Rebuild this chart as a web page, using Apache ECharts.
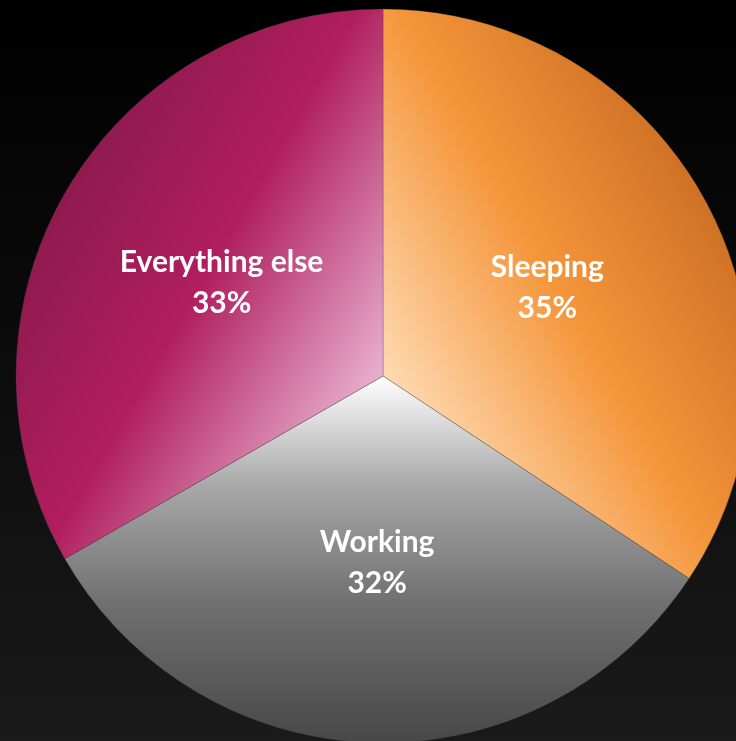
<!DOCTYPE html>
<html><head><meta charset="utf-8">
<script src="https://cdn.jsdelivr.net/npm/echarts@6/dist/echarts.min.js"></script>
<style>
html,body{margin:0;padding:0;width:736px;height:741px;overflow:hidden;background:linear-gradient(to bottom,#000 0%,#0c0c0c 50%,#1a1a1a 100%);}
#c{width:736px;height:741px;}
</style></head><body><div id="c"></div>
<script>
var categories = ['Sleeping', 'Working', 'Everything else'];
var values = [34.3, 32.4, 33.3];
var labelTexts = ['35%', '32%', '33%'];

var G = echarts.graphic.LinearGradient;
var fills = [
  new G(382, 376, 749, 165, [{offset:0,color:'#fedab3'},{offset:0.46,color:'#f5963b'},{offset:1,color:'#c4661f'}], true),
  new G(0, 376, 0, 742, [{offset:0,color:'#ffffff'},{offset:0.3,color:'#a8a8a8'},{offset:0.62,color:'#707070'},{offset:1,color:'#484848'}], true),
  new G(382, 376, 15, 165, [{offset:0,color:'#e8b0cf'},{offset:0.48,color:'#b01e5e'},{offset:1,color:'#84194a'}], true)
];

var chart = echarts.init(document.getElementById('c'), null, {renderer:'canvas'});
chart.setOption({
  animation:false,
  backgroundColor:'transparent',
  series:[{
    type:'pie',
    center:[383,376],
    radius:[0,367],
    startAngle:90,
    clockwise:true,
    avoidLabelOverlap:false,
    label:{
      show:true,
      position:'inside',
      color:'#ffffff',
      fontFamily:'Lato, "Open Sans", sans-serif',
      fontWeight:'bold',
      fontSize:30,
      lineHeight:41,
      padding:[6,0,0,0],
      formatter:function(p){return p.name + '\n' + labelTexts[p.dataIndex];}
    },
    labelLine:{show:false},
    itemStyle:{borderColor:'rgba(60,60,60,0.5)',borderWidth:0.6},
    emphasis:{disabled:true},
    data:categories.map(function(c,i){return {name:c,value:values[i],itemStyle:{color:fills[i]}};})
  }]
});
</script></body></html>
